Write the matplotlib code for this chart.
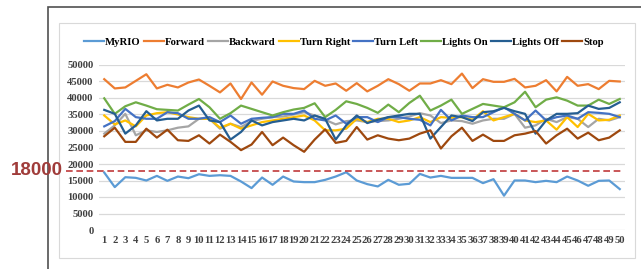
import numpy as np
import matplotlib.pyplot as plt
from matplotlib.patches import Rectangle

runs = list(range(1, 51))

myrio = [17400, 13000, 16000, 15800, 15000, 16400, 14900, 16200, 15700, 16900,
         16400, 16600, 16400, 14700, 12700, 15900, 13700, 16200, 14700, 14500,
         14500, 15200, 16200, 17500, 15000, 13900, 13200, 15200, 13700, 14000,
         17000, 15900, 16400, 15800, 15800, 15800, 14200, 15400, 10400, 15000,
         15000, 14500, 14900, 14500, 16200, 15000, 13400, 14900, 15000, 12400]
forward = [45700, 42900, 43200, 45200, 47200, 42900, 44000, 43200, 44700, 45600,
           43700, 41700, 44400, 39700, 44700, 41000, 45000, 43700, 43000, 42700,
           45200, 43700, 44400, 42200, 44500, 42000, 43700, 45700, 44200, 42200,
           44400, 44400, 45400, 44200, 47400, 43000, 45700, 44900, 44900, 45800,
           43200, 43700, 45400, 42000, 46400, 43700, 44200, 42700, 45200, 45000]
backward = [29200, 31700, 35200, 28700, 30200, 29700, 30200, 31000, 31400, 33700,
            33700, 30700, 32200, 31200, 33000, 33700, 34200, 34400, 35000, 35700,
            34700, 33400, 32000, 33000, 33200, 32700, 33000, 33200, 33700, 34400,
            35400, 34700, 32400, 33200, 33000, 32200, 33200, 33700, 33700, 35200,
            31000, 31700, 33700, 32700, 34200, 33700, 31200, 33700, 33200, 34200]
turn_right = [34700, 32000, 33200, 31400, 34700, 35400, 35700, 35000, 34200, 33700,
              33700, 31000, 32200, 30700, 31700, 32700, 33200, 33700, 34200, 34700,
              33200, 30200, 30200, 30700, 33700, 32700, 33700, 33700, 32700, 33200,
              34200, 32700, 34200, 34000, 34200, 33400, 36000, 33200, 34200, 35200,
              33200, 32700, 33200, 30400, 34200, 31200, 35200, 33200, 33400, 34700]
turn_left = [31400, 33000, 36700, 34200, 33700, 33700, 35700, 35400, 33700, 33700,
             34200, 32700, 34700, 32200, 33700, 34000, 34200, 35200, 35200, 36200,
             33700, 33200, 34700, 32200, 34200, 34200, 32700, 34200, 34200, 33700,
             33400, 31700, 36400, 33200, 34700, 34200, 34200, 35700, 37200, 35200,
             33200, 36200, 33200, 34200, 34700, 33700, 35700, 35500, 35200, 34200]
lights_on = [39900, 35200, 37500, 38700, 37700, 36600, 36400, 36200, 38000, 39700,
             37200, 33700, 35400, 37700, 36700, 35700, 34700, 35700, 36500, 37000,
             38400, 34200, 36400, 39000, 38200, 37000, 35500, 38000, 35700, 38500,
             40700, 36200, 37700, 39500, 35200, 36700, 38200, 37700, 37200, 38700,
             41900, 37200, 39500, 40200, 39200, 37700, 37700, 39500, 38200, 39700]
lights_off = [36400, 35200, 29200, 31700, 36000, 33200, 33700, 33700, 36200, 37700,
              33200, 32700, 27400, 29700, 33200, 31700, 32700, 33200, 33700, 33200,
              34700, 33700, 27400, 31700, 34700, 32400, 33400, 34200, 34700, 35200,
              35200, 27700, 31200, 34700, 34200, 33000, 35700, 36000, 37000, 36000,
              35200, 29200, 33200, 35200, 35200, 35400, 37700, 36700, 37000, 38700]
stop = [28400, 31000, 26700, 26700, 30700, 28000, 30400, 27200, 27000, 28700,
        26200, 28900, 26700, 24200, 25900, 29700, 25700, 28000, 25700, 23700,
        27400, 30500, 26400, 27000, 31200, 27400, 28700, 27700, 27200, 27700,
        29200, 30200, 24700, 28400, 31000, 27000, 28900, 27000, 27000, 28700,
        29200, 30000, 26200, 28700, 30700, 27700, 29500, 27200, 28000, 30200]

names = ['MyRIO', 'Forward', 'Backward', 'Turn Right', 'Turn Left',
         'Lights On', 'Lights Off', 'Stop']
series = [myrio, forward, backward, turn_right, turn_left, lights_on, lights_off, stop]
colors = ['#5B9BD5', '#ED7D31', '#A5A5A5', '#FFC000', '#4472C4',
          '#70AD47', '#255E91', '#9E480E']
threshold = 18000

fig = plt.figure(figsize=(6.41, 2.69), dpi=100)

# outer dark frame and inner light box
fig.patches.append(Rectangle((48 / 641, -0.1), 1.2, 1.1 - 7 / 269, transform=fig.transFigure,
                             fill=False, edgecolor='#505050', linewidth=1.2))
fig.patches.append(Rectangle((59 / 641, 11 / 269), 576 / 641, 235 / 269,
                             transform=fig.transFigure, fill=False,
                             edgecolor='#D9D9D9', linewidth=0.8))

ax = fig.add_axes([99 / 641, 39 / 269, 526 / 641, 165 / 269])
for name, vals, c in zip(names, series, colors):
    ax.plot(runs, vals, color=c, linewidth=1.6, label=name)

ax.set_xlim(0.5, 50.5)
ax.set_ylim(0, 50000)
ax.set_yticks(np.arange(0, 50001, 5000))
ax.set_xticks(runs)
ax.grid(axis='y', color='#D9D9D9', linewidth=0.9)
ax.set_axisbelow(True)
for s in ax.spines.values():
    s.set_visible(False)
ax.tick_params(length=0, pad=4)
for lab in ax.get_xticklabels() + ax.get_yticklabels():
    lab.set_fontfamily('Liberation Serif')
    lab.set_fontweight('bold')
    lab.set_color('#404040')
    lab.set_fontsize(7.7)

ax.axhline(threshold, xmin=-0.063, xmax=0.995, color='#C0393B', linestyle=(0, (4, 2.2)),
           linewidth=1.2, clip_on=False, zorder=5)
fig.text(37 / 641, ax.transData.transform((0, threshold))[1] / 269, str(threshold),
         ha='center', va='center', fontsize=13.5, fontweight='bold',
         family='Liberation Sans', color='#A03C3A')

fig.legend(loc='center', bbox_to_anchor=(344 / 641, 1 - 42 / 269), ncol=8, frameon=False,
           handlelength=1.85, handletextpad=0.1, columnspacing=0.3,
           prop={'family': 'Liberation Serif', 'weight': 'bold', 'size': 7.7})

fig.savefig('out.png', dpi=100)
